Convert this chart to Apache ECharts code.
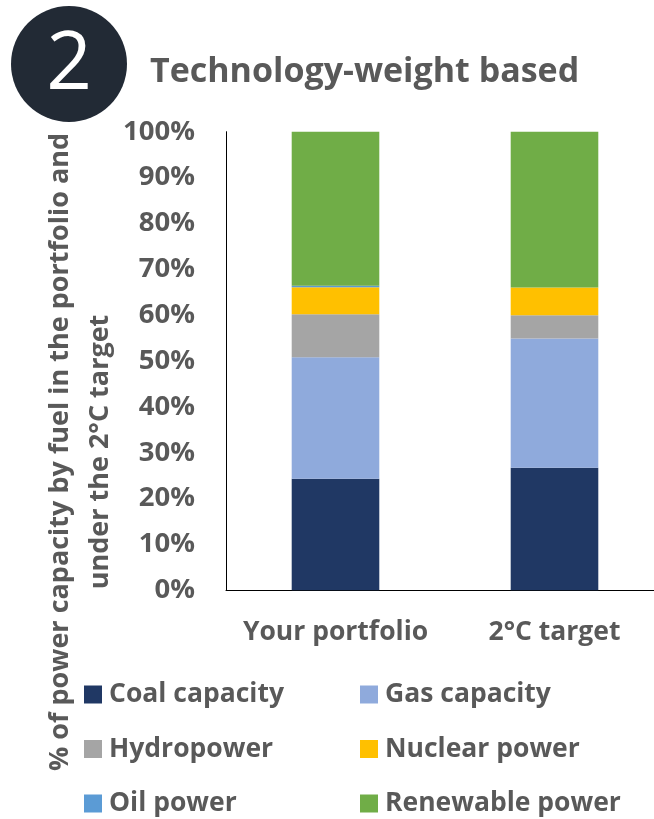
<!DOCTYPE html>
<html>
<head>
<meta charset="utf-8">
<script src="https://cdn.jsdelivr.net/npm/echarts@6/dist/echarts.min.js"></script>
<style>
html,body{margin:0;padding:0;background:#fff;overflow:hidden;}
#chart{width:680px;height:819px;}
</style>
</head>
<body>
<div id="chart"></div>
<script>
const categories = ['Your portfolio', '2°C target'];
const seriesNames = ['Coal capacity', 'Gas capacity', 'Hydropower', 'Nuclear power', 'Oil power', 'Renewable power'];
const coal = [24.3, 26.7];
const gas = [26.5, 28.2];
const hydro = [9.4, 5.1];
const nuclear = [5.9, 6.0];
const oil = [0.3, 0.0];
const renewable = [33.6, 34.0];
const yTicks = [0, 10, 20, 30, 40, 50, 60, 70, 80, 90, 100];

const colors = ['#203864', '#8FAADC', '#A5A5A5', '#FFC000', '#5B9BD5', '#70AD47'];
const values = [coal, gas, hydro, nuclear, oil, renewable];
const FONT = 'Open Sans';
const GREY = '#595959';

const chart = echarts.init(document.getElementById('chart'));
const legendText = {fontFamily: FONT, fontWeight: 'bold', fontSize: 26.5, color: GREY, padding: [0,0,0,2]};
chart.setOption({
  animation: false,
  title: {
    text: 'Technology-weight based',
    left: 145, top: 50,
    textStyle: {fontFamily: FONT, fontWeight: 'bold', fontSize: 34, color: GREY}
  },
  grid: {left: 226, top: 131.7, bottom: 819 - 590.3, right: 16, containLabel: false},
  xAxis: {
    type: 'category',
    data: categories,
    axisLine: {lineStyle: {color: '#000', width: 1}},
    axisTick: {show: false},
    axisLabel: {interval: 0, fontFamily: FONT, fontWeight: 'bold', fontSize: 26.5, color: GREY, margin: 29}
  },
  yAxis: {
    type: 'value',
    min: yTicks[0], max: yTicks[yTicks.length - 1], interval: 10,
    axisLine: {show: true, lineStyle: {color: '#000', width: 1}},
    axisTick: {show: false},
    splitLine: {show: false},
    axisLabel: {fontFamily: FONT, fontWeight: 'bold', fontSize: 27.5, color: GREY, margin: 31,
      formatter: v => v + '%'}
  },
  legend: [
    {
      data: [seriesNames[0], seriesNames[2], seriesNames[4]],
      orient: 'vertical', left: 84, top: 681, itemGap: 27.5, height: 220, padding: 0,
      itemWidth: 18, itemHeight: 18, icon: 'rect',
      textStyle: legendText
    },
    {
      data: [seriesNames[1], seriesNames[3], seriesNames[5]],
      orient: 'vertical', left: 360, top: 681, itemGap: 27.5, height: 220, padding: 0,
      itemWidth: 18, itemHeight: 18, icon: 'rect',
      textStyle: legendText
    }
  ],
  graphic: [
    {type: 'circle', shape: {cx: 69, cy: 64, r: 58}, style: {fill: '#222a35'}},
    {type: 'text', x: 69, y: 66, style: {text: '2', fill: '#fff', fontFamily: 'Open Sans', fontSize: 80,
      fontWeight: 'normal', align: 'center', verticalAlign: 'middle'}},
    {type: 'text', x: 80, y: 452, rotation: Math.PI / 2,
      style: {text: '% of power capacity by fuel in the portfolio and\nunder the 2°C target',
        fill: GREY, fontFamily: FONT, fontWeight: 'bold', fontSize: 27, lineHeight: 40,
        align: 'center', verticalAlign: 'middle'}}
  ],
  series: seriesNames.map((name, i) => ({
    name: name,
    type: 'bar',
    stack: 'total',
    barWidth: '40%',
    data: values[i],
    itemStyle: {color: colors[i]}
  }))
});
</script>
</body>
</html>
